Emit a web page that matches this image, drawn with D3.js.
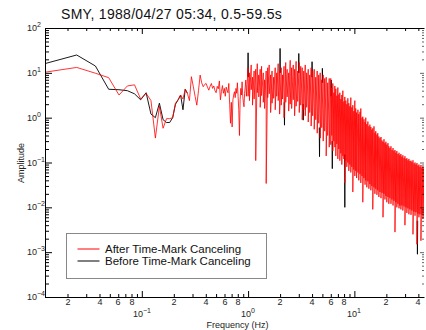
<!DOCTYPE html>
<html>
<head>
<meta charset="utf-8">
<script src="https://cdn.jsdelivr.net/npm/d3@7"></script>
<style>
  html, body { margin: 0; padding: 0; background: #fff; }
  svg { display: block; }
  .tick-label { font-family: "Liberation Sans Narrow", "Arial Narrow", "Liberation Sans", sans-serif; font-size: 9px; }
</style>
</head>
<body>
<div id="chart"></div>
<script>
const titleText = "SMY, 1988/04/27 05:34, 0.5-59.5s";
const xLabelText = "Frequency (Hz)";
const yLabelText = "Amplitude";
const seriesNames = ["After Time-Mark Canceling", "Before Time-Mark Canceling"];
const seriesColors = ["#ff0000", "#000000"];
const xMinorLabels = [2, 4, 6, 8];

// spectrum bin width (Hz); the low end is listed bin by bin (k = 1, 2, ...)
const binWidth = 0.0122;

const redLowAmp = [
  10.3, 13.2, 9.8, 7.8, 3.2, 5.1, 5.4, 2.6, 3.5, 2.4,
  0.35, 1.8, 0.58, 0.95, 0.95, 1.0, 2.1, 2.5, 3.2, 2.6,
  4.3, 3.5, 2.4, 8.2, 5.0, 3.0, 1.9, 4.0, 8.9, 6.0,
  4.9, 5.5, 5.8, 4.8, 4.1, 5.0, 5.8, 4.5, 5.1, 4.0,
  3.6, 5.0, 4.4, 6.6, 2.5, 3.8, 5.2, 3.5, 4.5, 3.0,
  4.8, 4.1, 3.6, 5.8, 2.0, 0.75, 2.2, 0.62, 2.5, 3.2,
  3.8, 2.8, 4.5, 3.5, 6.0, 3.0, 1.5, 0.40, 2.5, 4.5,
  3.2, 6.3, 3.0, 2.2, 1.75, 3.5, 4.8, 6.9, 3.0, 5.5,
  8.0
];

const blackLowAmp = [
  16, 25, 14.2, 4.3, 4.2, 4.0, 3.4, 2.5, 3.6, 1.2,
  1.0, 2.1, 0.9, 0.78, 0.78, 1.0, 2.0, 2.5, 3.2, 1.5,
  4.3, 3.5
];

// above 1 Hz the spectrum is too dense to list bin by bin: max / min per column
const colFreq = [
  1.00, 1.03, 1.07, 1.10, 1.14, 1.18, 1.22, 1.26, 1.30, 1.34,
  1.39, 1.43, 1.48, 1.53, 1.58, 1.63, 1.68, 1.74, 1.80, 1.86,
  1.92, 1.98, 2.05, 2.11, 2.18, 2.26, 2.33, 2.41, 2.49, 2.57,
  2.66, 2.74, 2.83, 2.93, 3.03, 3.13, 3.23, 3.34, 3.45, 3.56,
  3.68, 3.80, 3.92, 4.05, 4.19, 4.33, 4.47, 4.62, 4.77, 4.93,
  5.09, 5.26, 5.43, 5.61, 5.80,
  6.00, 6.13, 6.27, 6.41, 6.55, 6.69, 6.84, 6.99, 7.14, 7.30,
  7.46, 7.62, 7.79, 7.96, 8.13, 8.31, 8.49, 8.68, 8.87, 9.06,
  9.26, 9.46, 9.67, 9.88, 10.1, 10.3, 10.5, 10.8, 11.0, 11.3,
  11.5, 11.8, 12.0, 12.3, 12.6, 12.8, 13.1, 13.4, 13.7, 14.0,
  14.3, 14.6, 14.9, 15.3, 15.6, 15.9, 16.3, 16.6, 17.0, 17.4,
  17.8, 18.2, 18.6, 19.0, 19.4, 19.8, 20.2, 20.7, 21.1, 21.6,
  22.1, 22.6, 23.1, 23.6, 24.1, 24.6, 25.1, 25.7, 26.3, 26.8,
  27.4, 28.0, 28.6, 29.3, 29.9, 30.6, 31.2, 31.9, 32.6, 33.3,
  34.1, 34.8, 35.6, 36.4, 37.2, 38.0, 38.8, 39.7, 40.5, 41.4,
  42.3, 43.2, 44.2, 45.2
];

const colMax = [
  13, 10, 15, 8, 11, 12, 16, 9, 12, 14,
  10, 7, 11, 13, 15, 9, 11, 8, 13, 10,
  16, 11, 13, 9, 14, 17, 12, 10, 19, 13,
  15, 12, 18, 11, 17, 14, 13, 11, 15, 10,
  12, 9, 13, 11, 12, 8, 11, 9, 10, 7,
  9, 7.5, 8, 6, 7.5,
  7.5, 4.6, 5.8, 3.6, 5.1, 4.4, 3.1, 4.7, 3.3, 3.6,
  2.6, 3.2, 4.0, 2.3, 2.9, 2.4, 2.0, 2.7, 2.1, 1.8,
  2.8, 1.7, 1.9, 1.4, 2.4, 1.6, 1.3, 1.5, 1.2, 1.35,
  1.6, 1.0, 1.05, 0.92, 0.8, 1.0, 0.72, 0.82, 0.64, 0.7,
  0.62, 0.54, 0.58, 0.64, 0.46, 0.5, 0.42, 0.45, 0.38, 0.35,
  0.37, 0.31, 0.29, 0.33, 0.27, 0.29, 0.25, 0.27, 0.23, 0.21,
  0.23, 0.19, 0.21, 0.18, 0.19, 0.165, 0.18, 0.155, 0.165, 0.145,
  0.155, 0.135, 0.145, 0.125, 0.138, 0.12, 0.125, 0.112, 0.12, 0.108,
  0.11, 0.102, 0.112, 0.095, 0.1, 0.09, 0.097, 0.085, 0.09, 0.08,
  0.088, 0.077, 0.082, 0.074
];

const colMin = [
  3.0, 2.4, 4.2, 1.9, 2.6, 0.11, 3.6, 2.9, 1.7, 3.1,
  2.2, 1.6, 0.034, 2.8, 3.4, 1.3, 2.1, 2.7, 1.5, 3.0,
  2.4, 1.2, 1.9, 2.6, 1.0, 2.2, 2.9, 1.4, 2.0, 1.6,
  2.5, 1.1, 1.8, 2.3, 1.3, 1.9, 0.9, 1.5, 1.1, 1.7,
  0.8, 1.3, 0.65, 1.1, 0.55, 0.9, 0.45, 0.75, 0.35, 0.6,
  0.3, 0.5, 0.14, 0.4, 0.22,
  0.25, 0.4, 0.18, 0.3, 0.22, 0.14, 0.26, 0.12, 0.2, 0.11,
  0.16, 0.09, 0.14, 0.12, 0.035, 0.11, 0.08, 0.1, 0.065, 0.09,
  0.06, 0.08, 0.022, 0.07, 0.05, 0.065, 0.045, 0.06, 0.04, 0.055,
  0.035, 0.05, 0.013, 0.045, 0.032, 0.04, 0.028, 0.038, 0.026, 0.033,
  0.024, 0.03, 0.009, 0.028, 0.02, 0.026, 0.019, 0.024, 0.017, 0.022,
  0.016, 0.021, 0.006, 0.02, 0.015, 0.018, 0.013, 0.017, 0.012, 0.016,
  0.012, 0.015, 0.011, 0.014, 0.0028, 0.013, 0.01, 0.012, 0.0095, 0.011,
  0.009, 0.011, 0.0085, 0.0105, 0.004, 0.01, 0.0075, 0.0095, 0.007, 0.009,
  0.0068, 0.0085, 0.0025, 0.008, 0.0065, 0.0078, 0.0015, 0.0072, 0.006, 0.007,
  0.0018, 0.0068, 0.0055, 0.0065
];

// places where the uncorrected (black) spectrum pokes out of the red one
const blackSpikeFreq = [1.00, 2.00, 3.00, 4.00, 5.00, 6.05, 2.20, 3.30, 4.70, 6.20, 8.13, 39.2];
const blackSpikePeak = [28, 35, 27, 17.7, 12.6, 6.9, 0.68, 0.88, 0.135, 0.073, 0.01, 0.0009];
const blackSpikeBase = [8, 10, 10, 8, 6, 3, 2.2, 2.0, 0.6, 0.3, 0.15, 0.005];

const width = 426;
const height = 330;
const plot = { left: 45, right: 424, top: 28, bottom: 297 };
const labelColor = "#222";

const svg = d3
  .select("#chart")
  .append("svg")
  .attr("width", width)
  .attr("height", height);

const x = d3.scaleLog().domain([0.01228, 45.2]).range([plot.left, plot.right]);
const y = d3.scaleLog().domain([1e-4, 1e2]).range([plot.bottom, plot.top]);

const isDecade = (d) => Math.abs(Math.log10(d) - Math.round(Math.log10(d))) < 1e-6;
const mantissa = (d) => Math.round(d / Math.pow(10, Math.floor(Math.log10(d) + 1e-9)));

const xMajor = x.ticks().filter(isDecade);
const xMinor = x.ticks().filter((d) => !isDecade(d));
const yMajor = y.ticks().filter(isDecade);
const yMinor = y.ticks().filter((d) => !isDecade(d));

svg
  .append("defs")
  .append("clipPath")
  .attr("id", "plot-clip")
  .append("rect")
  .attr("x", plot.left)
  .attr("y", plot.top)
  .attr("width", plot.right - plot.left)
  .attr("height", plot.bottom - plot.top);

// data
const line = d3
  .line()
  .x((d) => x(d[0]))
  .y((d) => y(d[1]));

const dataG = svg.append("g").attr("clip-path", "url(#plot-clip)");

const blackPoints = blackLowAmp.map((a, i) => [(i + 1) * binWidth, a]);
dataG
  .append("path")
  .datum(blackPoints)
  .attr("fill", "none")
  .attr("stroke", seriesColors[1])
  .attr("stroke-width", 0.9)
  .attr("d", line);

blackSpikeFreq.forEach((f, i) => {
  dataG
    .append("path")
    .datum([
      [f * 0.994, blackSpikeBase[i]],
      [f, blackSpikePeak[i]],
      [f * 1.006, blackSpikeBase[i]],
    ])
    .attr("fill", "none")
    .attr("stroke", seriesColors[1])
    .attr("stroke-width", 0.9)
    .attr("d", line);
});

const redPoints = redLowAmp.map((a, i) => [(i + 1) * binWidth, a]);
colFreq.forEach((f, i) => {
  redPoints.push([f, colMax[i]], [f, colMin[i]]);
});

dataG
  .append("path")
  .datum(redPoints)
  .attr("fill", "none")
  .attr("stroke", seriesColors[0])
  .attr("stroke-width", 0.8)
  .attr("d", line);

// axes: ticks point inward, decades longer
const axisG = svg.append("g");

function addAxis(axis, transform, values, size, withDomain) {
  const g = axisG
    .append("g")
    .attr("transform", transform)
    .call(axis.tickValues(values).tickSizeInner(size).tickSizeOuter(0).tickFormat(""));
  if (!withDomain) g.select(".domain").remove();
  return g;
}

addAxis(d3.axisBottom(x), `translate(0,${plot.bottom})`, xMinor, -3, true);
addAxis(d3.axisBottom(x), `translate(0,${plot.bottom})`, xMajor, -6, false);
addAxis(d3.axisTop(x), `translate(0,${plot.top})`, xMinor, -3, true);
addAxis(d3.axisTop(x), `translate(0,${plot.top})`, xMajor, -6, false);
addAxis(d3.axisLeft(y), `translate(${plot.left},0)`, yMinor, -4, true);
addAxis(d3.axisLeft(y), `translate(${plot.left},0)`, yMajor, -7, false);
addAxis(d3.axisRight(y), `translate(${plot.right},0)`, yMinor, -2, false).attr("opacity", 0.6);
addAxis(d3.axisRight(y), `translate(${plot.right},0)`, yMajor, -4, false).attr("opacity", 0.6);

// tick labels (group opacity keeps the glyphs grayscale-smoothed)
const labelG = svg.append("g").attr("fill", labelColor).attr("opacity", 0.99);

labelG
  .selectAll(".x-minor-label")
  .data(xMinor.filter((d) => xMinorLabels.includes(mantissa(d))))
  .join("text")
  .attr("class", "tick-label")
  .attr("text-anchor", "middle")
  .attr("x", (d) => Math.round(x(d)))
  .attr("y", plot.bottom + 8)
  .text((d) => mantissa(d));

const xDecadeLabel = labelG
  .selectAll(".x-major-label")
  .data(xMajor)
  .join("text")
  .attr("class", "tick-label")
  .attr("text-anchor", "middle")
  .attr("x", (d) => Math.round(x(d)))
  .attr("y", plot.bottom + 20);
xDecadeLabel.append("tspan").text("10");
xDecadeLabel
  .append("tspan")
  .attr("dy", -4)
  .style("font-size", "7px")
  .text((d) => Math.round(Math.log10(d)).toString().replace("-", "\u2212"));

const yDecadeLabel = labelG
  .selectAll(".y-major-label")
  .data(yMajor)
  .join("text")
  .attr("class", "tick-label")
  .attr("x", 27)
  .attr("y", (d) => Math.round(y(d)) + 3);
yDecadeLabel.append("tspan").text("10");
yDecadeLabel
  .append("tspan")
  .attr("dy", -4)
  .style("font-size", "7px")
  .text((d) => Math.round(Math.log10(d)).toString().replace("-", "\u2212"));

labelG
  .append("text")
  .attr("class", "tick-label")
  .attr("text-anchor", "middle")
  .attr("x", (plot.left + plot.right) / 2 + 3)
  .attr("y", 328)
  .text(xLabelText);

labelG
  .append("text")
  .attr("class", "tick-label")
  .attr("text-anchor", "middle")
  .attr("transform", "translate(23.5,163) rotate(-90)")
  .text(yLabelText);

svg
  .append("text")
  .attr("x", 61)
  .attr("y", 19)
  .style("font-family", "'Liberation Sans', Arial, sans-serif")
  .style("font-size", "14px")
  .style("letter-spacing", "0.3px")
  .attr("fill", "#111")
  .text(titleText);

// legend
const legend = svg.append("g").attr("transform", "translate(66.5,233.5)");
legend
  .append("rect")
  .attr("width", 200)
  .attr("height", 45)
  .attr("fill", "#fff")
  .attr("stroke", "#888")
  .attr("stroke-width", 1);

seriesNames.forEach((name, i) => {
  const ly = 15.5 + i * 12;
  legend
    .append("line")
    .attr("x1", 11)
    .attr("x2", 33)
    .attr("y1", ly)
    .attr("y2", ly)
    .attr("stroke", seriesColors[i])
    .attr("stroke-width", 1);
  legend
    .append("text")
    .attr("x", 38.5)
    .attr("y", ly + 4)
    .style("font-family", "'Liberation Sans', Arial, sans-serif")
    .style("font-size", "11.5px")
    .attr("fill", "#111")
    .text(name);
});
</script>
</body>
</html>
